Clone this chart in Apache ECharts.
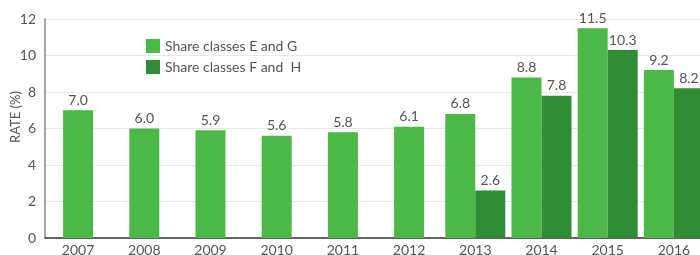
<!DOCTYPE html>
<html>
<head>
<meta charset="utf-8">
<script src="https://cdn.jsdelivr.net/npm/echarts@6/dist/echarts.min.js"></script>
<style>
  html, body { margin: 0; padding: 0; background: #fff; }
  #chart { width: 700px; height: 255px; }
</style>
</head>
<body>
<div id="chart"></div>
<script>
const years = ['2007', '2008', '2009', '2010', '2011', '2012', '2013', '2014', '2015', '2016']
// years with only the E/G class are drawn centred on their own axis
const singleEG = [7.0, 6.0, 5.9, 5.6, 5.8, 6.1, '-', '-', '-', '-']
const pairEG = ['-', '-', '-', '-', '-', '-', 6.8, 8.8, 11.5, 9.2]
const pairFH = ['-', '-', '-', '-', '-', '-', 2.6, 7.8, 10.3, 8.2]
const yTicks = [0, 2, 4, 6, 8, 10, 12]

const nameEG = 'Share classes E and G'
const nameFH = 'Share classes F and  H'
const lightGreen = '#4cb848'
const darkGreen = '#318c36'
const font = 'Lato, "Open Sans", sans-serif'

const chart = echarts.init(document.getElementById('chart'))

const label = {
  show: true,
  position: 'top',
  distance: 3,
  color: '#555',
  fontSize: 14,
  fontFamily: font,
  formatter: p => p.value.toFixed(1)
}

chart.setOption({
  animation: false,
  textStyle: { fontFamily: font },
  grid: {
    left: 45, right: -7, top: 19, bottom: 17,
    containLabel: false,
    outerBoundsMode: 'none'
  },
  // y axis title sits a little above the axis middle in the original
  graphic: [
    {
      type: 'text',
      x: 16,
      y: 117,
      rotation: Math.PI / 2,
      style: {
        text: 'RATE (%)',
        fill: '#555',
        fontSize: 13,
        fontFamily: font,
        align: 'center',
        verticalAlign: 'middle'
      }
    }
  ],
  legend: {
    orient: 'vertical',
    left: 141,
    top: 34,
    itemWidth: 14,
    itemHeight: 14,
    itemGap: 7,
    icon: 'rect',
    textStyle: { color: '#555', fontSize: 14, fontFamily: font },
    data: [nameEG, nameFH]
  },
  xAxis: [
    {
      type: 'category',
      data: years,
      axisLine: { lineStyle: { color: '#333', width: 1.5 } },
      axisTick: { show: false },
      axisLabel: { color: '#555', fontSize: 14, margin: 5 }
    },
    {
      type: 'category',
      data: years,
      show: false
    }
  ],
  yAxis: {
    type: 'value',
    min: yTicks[0],
    max: yTicks[yTicks.length - 1],
    interval: 2,
    axisLine: { show: true, lineStyle: { color: '#888', width: 1.5 } },
    axisTick: { show: false },
    axisLabel: { color: '#555', fontSize: 14, margin: 9 },
    splitLine: { lineStyle: { color: '#e8e8e8' } }
  },
  series: [
    {
      name: nameEG,
      type: 'bar',
      xAxisIndex: 1,
      data: singleEG,
      barWidth: 30,
      itemStyle: { color: lightGreen },
      label: label
    },
    {
      name: nameEG,
      type: 'bar',
      xAxisIndex: 0,
      data: pairEG,
      barWidth: 30,
      barGap: 0,
      itemStyle: { color: lightGreen },
      label: label
    },
    {
      name: nameFH,
      type: 'bar',
      xAxisIndex: 0,
      data: pairFH,
      barWidth: 30,
      barGap: 0,
      itemStyle: { color: darkGreen },
      label: label
    }
  ]
})
</script>
</body>
</html>
